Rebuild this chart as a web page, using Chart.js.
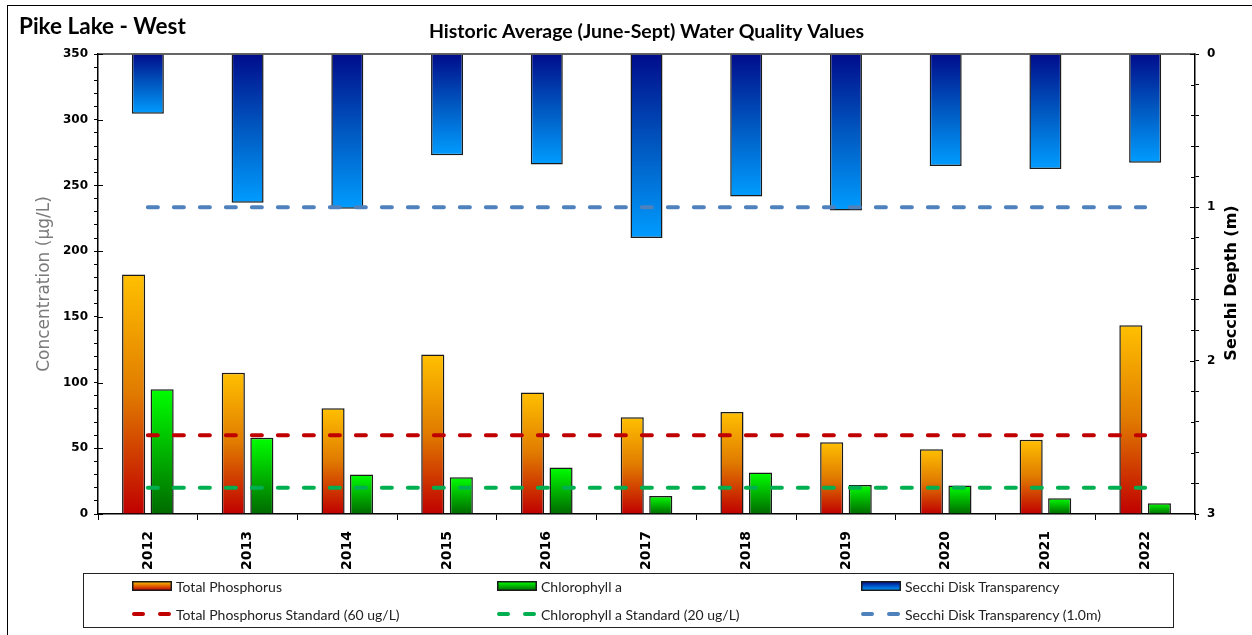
<!DOCTYPE html>
<html>
<head>
<meta charset="utf-8">
<script src="https://cdn.jsdelivr.net/npm/chart.js@4.4.1/dist/chart.umd.min.js"></script>
<style>
  html, body { margin: 0; padding: 0; background: #fff; overflow: hidden; }
  #wrap { position: relative; width: 1252px; height: 635px; }
  #frame { position: absolute; left: 7px; top: 5px; width: 1250px; height: 640px; border: 1.5px solid #000; box-sizing: border-box; }
  #lake { position: absolute; left: 19px; top: 12px; font: bold 22.5px Lato, sans-serif; color: #000; }
  #chart { position: absolute; left: 0; top: 0; }
  #legend { position: absolute; left: 83px; top: 573px; width: 1091px; height: 55px; border: 1.5px solid #222; box-sizing: border-box; font: 14px Lato, sans-serif; color: #222; }
  .item { position: absolute; display: flex; align-items: center; height: 20px; }
  .item svg { margin-right: 4px; }
</style>
</head>
<body>
<div id="wrap">
  <div id="frame"></div>
  <canvas id="chart" width="1252" height="635"></canvas>
  <div id="lake">Pike Lake - West</div>
  <div id="legend"></div>
</div>
<script>
// ===== data =====
const years = ["2012", "2013", "2014", "2015", "2016", "2017", "2018", "2019", "2020", "2021", "2022"];
const totalPhosphorus = [182.3, 107.4, 80.5, 121.4, 92.4, 73.6, 77.7, 54.6, 49.3, 56.4, 143.7];
const chlorophyllA = [94.9, 58.1, 30.0, 27.9, 35.3, 13.7, 31.5, 22.1, 21.6, 12.0, 8.1];
const secchiDepth = [0.39, 0.97, 1.01, 0.66, 0.72, 1.20, 0.93, 1.02, 0.73, 0.75, 0.71];
const tpStandard = [60, 60, 60, 60, 60, 60, 60, 60, 60, 60, 60];
const chlStandard = [20, 20, 20, 20, 20, 20, 20, 20, 20, 20, 20];
const secchiStandard = [1, 1, 1, 1, 1, 1, 1, 1, 1, 1, 1];

const TICK_FONT = "'DejaVu Sans', sans-serif";

// gradient per bar, from its top edge to its bottom edge
function barFill(topColor, midColor, bottomColor, axisId) {
  return ctx => {
    const chart = ctx.chart;
    const scale = chart.scales[axisId];
    if (!scale || !ctx.parsed) return topColor;
    const a = scale.getPixelForValue(0);
    const b = scale.getPixelForValue(ctx.parsed.y);
    if (!isFinite(a) || !isFinite(b) || a === b) return topColor;
    const g = chart.ctx.createLinearGradient(0, Math.min(a, b), 0, Math.max(a, b));
    g.addColorStop(0, topColor);
    g.addColorStop(0.5, midColor);
    g.addColorStop(1, bottomColor);
    return g;
  };
}

// top frame line, inner halves of major ticks, right axis title
const extras = {
  id: "extras",
  afterDraw(chart) {
    const { ctx, chartArea: a, scales } = chart;
    ctx.save();
    ctx.strokeStyle = "#333";
    ctx.lineWidth = 1.5;
    ctx.beginPath();
    ctx.moveTo(a.left, a.top);
    ctx.lineTo(a.right, a.top);
    ctx.stroke();
    ctx.strokeStyle = "#000";
    ctx.lineWidth = 1;
    ctx.beginPath();
    for (let v = 0; v <= 350; v += 50) {
      const y = Math.round(scales.y.getPixelForValue(v)) + 0.5;
      ctx.moveTo(a.left, y);
      ctx.lineTo(a.left + 5, y);
    }
    for (let v = 0; v <= 3; v += 0.2) {
      const y = Math.round(scales.y1.getPixelForValue(v)) + 0.5;
      ctx.moveTo(a.right, y);
      ctx.lineTo(a.right - (Math.abs(v - Math.round(v)) < 1e-6 ? 5 : 4), y);
    }
    ctx.stroke();
    ctx.translate(1232, 283);
    ctx.rotate(-Math.PI / 2);
    ctx.fillStyle = "#000";
    ctx.font = "bold 16px " + TICK_FONT;
    ctx.textAlign = "center";
    ctx.textBaseline = "middle";
    ctx.fillText("Secchi Depth (m)", 0, 0);
    ctx.restore();
  }
};

const chart = new Chart(document.getElementById("chart"), {
  type: "bar",
  data: {
    labels: years,
    datasets: [
      {
        label: "Total Phosphorus Standard (60 ug/L)",
        type: "line",
        data: tpStandard,
        yAxisID: "y",
        borderColor: "#C00000",
        borderWidth: 4,
        borderDash: [10, 16],
        borderCapStyle: "round",
        pointRadius: 0,
        fill: false,
        order: 0
      },
      {
        label: "Chlorophyll a Standard (20 ug/L)",
        type: "line",
        data: chlStandard,
        yAxisID: "y",
        borderColor: "#00B050",
        borderWidth: 4,
        borderDash: [10, 16],
        borderCapStyle: "round",
        pointRadius: 0,
        fill: false,
        order: 0
      },
      {
        label: "Secchi Disk Transparency (1.0m)",
        type: "line",
        data: secchiStandard,
        yAxisID: "y1",
        borderColor: "#4F81BD",
        borderWidth: 4,
        borderDash: [10, 16],
        borderCapStyle: "round",
        pointRadius: 0,
        fill: false,
        order: 0
      },
      {
        label: "Total Phosphorus",
        data: totalPhosphorus,
        yAxisID: "y",
        backgroundColor: barFill("#FFC000", "#E07A00", "#C00000", "y"),
        borderColor: "#1a1a1a",
        borderWidth: 1.5,
        categoryPercentage: 0.572,
        barPercentage: 0.81,
        order: 1
      },
      {
        label: "Chlorophyll a",
        data: chlorophyllA,
        yAxisID: "y",
        backgroundColor: barFill("#00FF00", "#00B400", "#006A00", "y"),
        borderColor: "#1a1a1a",
        borderWidth: 1.5,
        categoryPercentage: 0.572,
        barPercentage: 0.81,
        order: 1
      },
      {
        label: "Secchi Disk Transparency",
        data: secchiDepth,
        yAxisID: "y1",
        grouped: false,
        barPercentage: 1,
        maxBarThickness: 32,
        backgroundColor: barFill("#000C8C", "#0058C0", "#009CFF", "y1"),
        borderColor: "#1a1a1a",
        borderWidth: 1.5,
        order: 1
      }
    ]
  },
  options: {
    responsive: false,
    animation: false,
    layout: { padding: 0 },
    plugins: {
      legend: { display: false },
      tooltip: { enabled: false },
      title: {
        display: true,
        fullSize: false,
        text: "Historic Average (June-Sept) Water Quality Values",
        color: "#000",
        font: { family: "Lato, sans-serif", size: 19.5, weight: "bold", lineHeight: 1.2 },
        padding: { top: 20, bottom: 10.6 }
      }
    },
    scales: {
      x: {
        grid: { drawOnChartArea: false, tickLength: 6, color: "#000", tickWidth: 1 },
        border: { color: "#000", width: 1.5 },
        ticks: {
          minRotation: 90, maxRotation: 90, padding: 11, color: "#000",
          font: { family: TICK_FONT, size: 14, weight: "bold" }
        },
        afterFit: s => { s.height = 121; }
      },
      y: {
        position: "left",
        min: 0,
        max: 350,
        grid: { drawOnChartArea: false, tickLength: 4, color: "#000" },
        border: { color: "#000", width: 1.5 },
        ticks: {
          stepSize: 10, autoSkip: false, padding: 6, color: "#000",
          font: { family: TICK_FONT, size: 12, weight: "bold" },
          callback: v => (v % 50 === 0 ? v : "")
        },
        title: {
          display: true,
          text: "Concentration (μg/L)",
          color: "#7A7A7A",
          font: { family: TICK_FONT, size: 17, lineHeight: 1.2 },
          padding: { top: 34, bottom: 0 }
        },
        afterFit: s => { s.width = 98; }
      },
      y1: {
        position: "right",
        reverse: true,
        min: 0,
        max: 3,
        grid: { drawOnChartArea: false, tickLength: 4, color: "#000" },
        border: { color: "#000", width: 1.5 },
        ticks: {
          stepSize: 0.2, autoSkip: false, padding: 8, color: "#000",
          font: { family: TICK_FONT, size: 12, weight: "bold" },
          callback: v => (Math.abs(v - Math.round(v)) < 1e-6 ? Math.round(v) : "")
        },
        afterFit: s => { s.width = 57; }
      }
    }
  },
  plugins: [extras]
});

// legend in three columns, two rows
const legendItems = [
  { text: "Total Phosphorus", kind: "bar", c1: "#FFC000", c2: "#C00000", x: 48, y: 2 },
  { text: "Chlorophyll a", kind: "bar", c1: "#00FF00", c2: "#006A00", x: 413, y: 2 },
  { text: "Secchi Disk Transparency", kind: "bar", c1: "#000C8C", c2: "#009CFF", x: 777, y: 2 },
  { text: "Total Phosphorus Standard (60 ug/L)", kind: "dash", c1: "#C00000", x: 48, y: 30 },
  { text: "Chlorophyll a Standard (20 ug/L)", kind: "dash", c1: "#00B050", x: 413, y: 30 },
  { text: "Secchi Disk Transparency (1.0m)", kind: "dash", c1: "#4F81BD", x: 777, y: 30 }
];
const legendEl = document.getElementById("legend");
legendItems.forEach((it, i) => {
  const div = document.createElement("div");
  div.className = "item";
  div.style.left = it.x + "px";
  div.style.top = it.y + "px";
  let svg;
  if (it.kind === "bar") {
    svg = `<svg width="40" height="10"><defs><linearGradient id="g${i}" x1="0" y1="0" x2="0" y2="1">
      <stop offset="0" stop-color="${it.c1}"/><stop offset="1" stop-color="${it.c2}"/></linearGradient></defs>
      <rect x="0.75" y="0.75" width="38.5" height="8.5" fill="url(#g${i})" stroke="#1a1a1a" stroke-width="1.5"/></svg>`;
  } else {
    svg = `<svg width="40" height="10"><line x1="2" y1="5" x2="38" y2="5" stroke="${it.c1}" stroke-width="4"
      stroke-linecap="round" stroke-dasharray="9 17"/></svg>`;
  }
  div.innerHTML = svg + "<span>" + it.text + "</span>";
  legendEl.appendChild(div);
});
</script>
</body>
</html>
